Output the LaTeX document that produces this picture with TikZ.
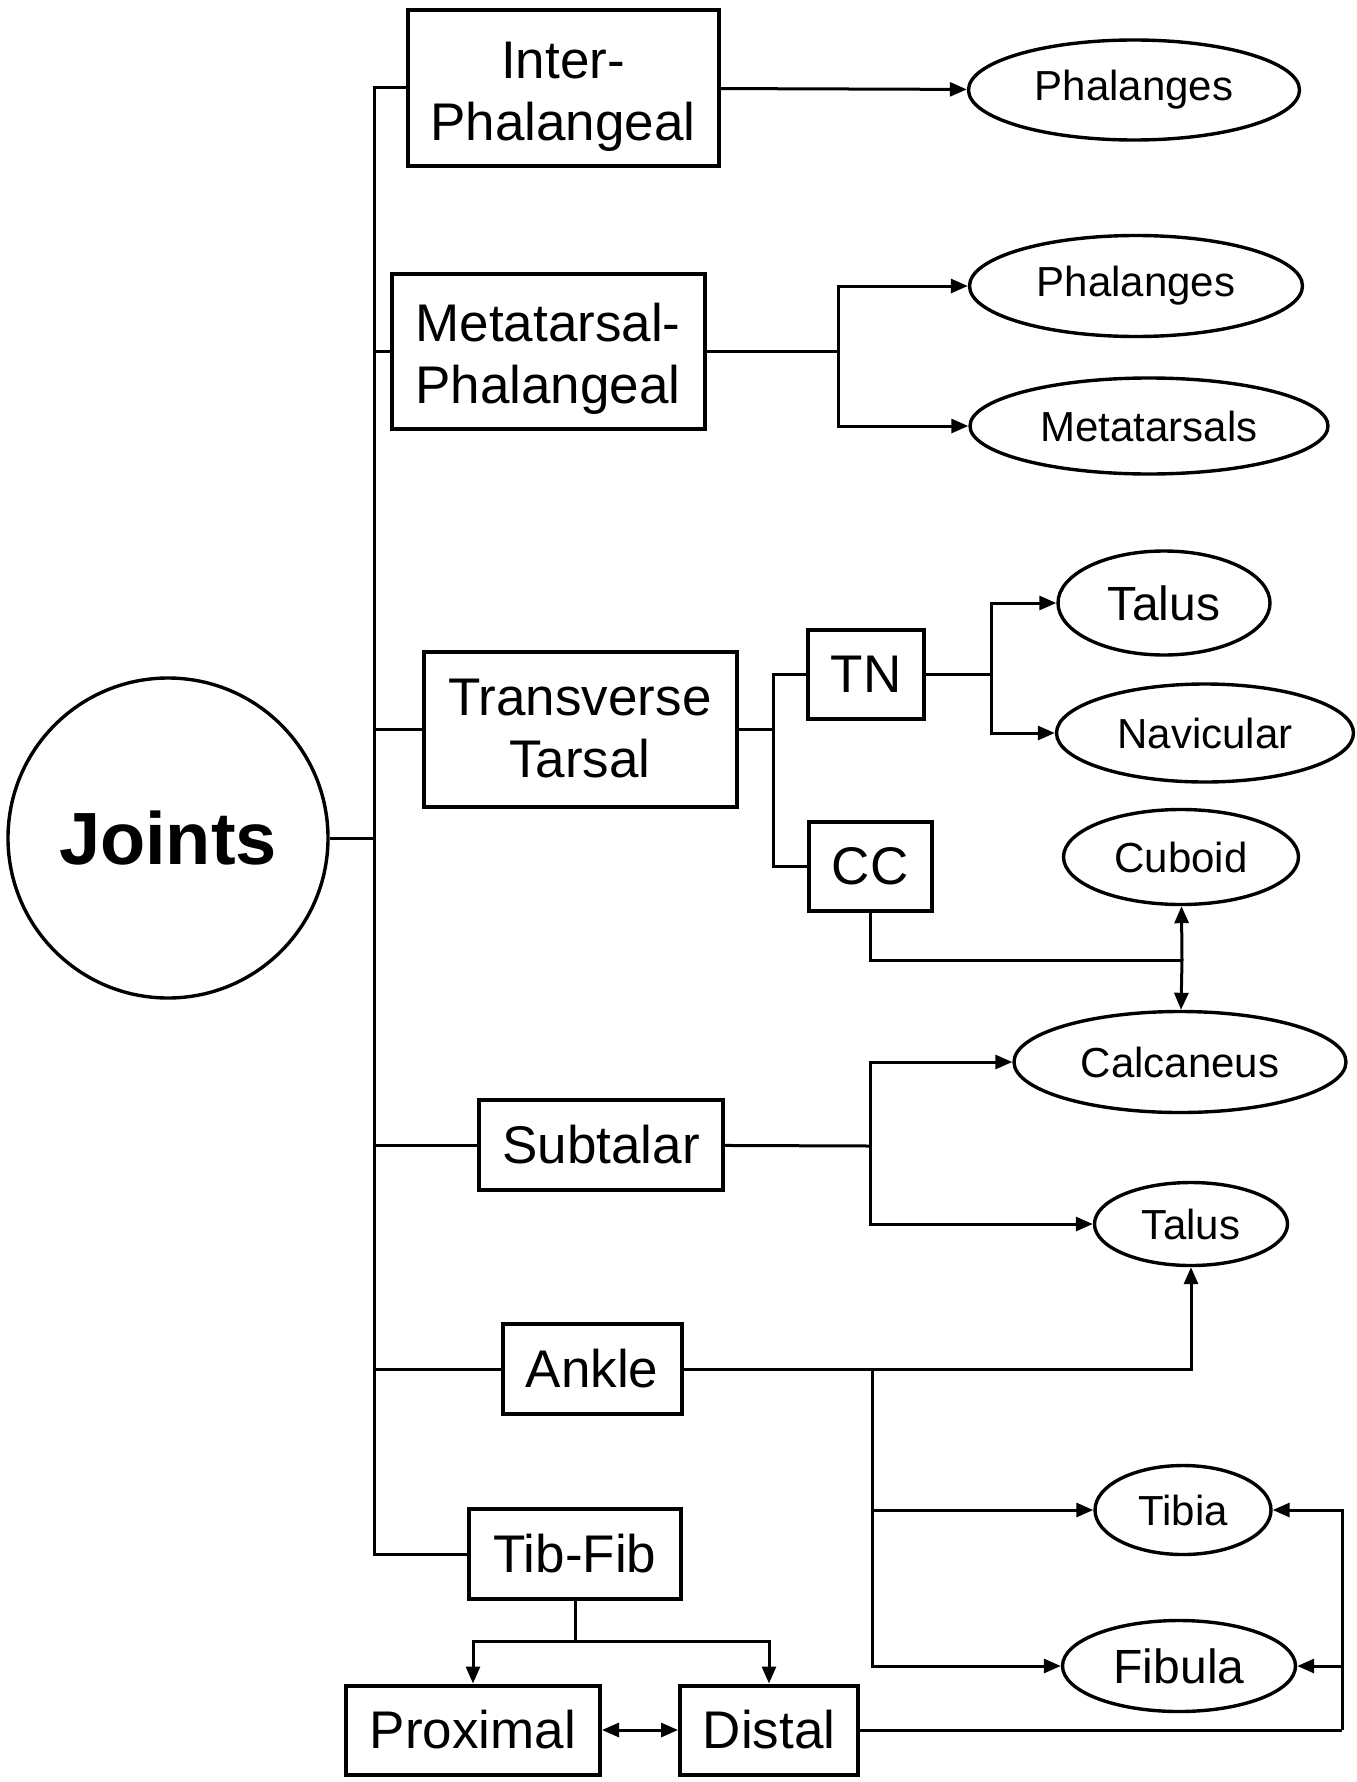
\documentclass[tikz,border=0pt]{standalone}
\usepackage{fontspec}
\setmainfont{Liberation Sans}
\usetikzlibrary{arrows.meta,shapes.geometric}
\begin{document}
\begin{tikzpicture}[x=0.5pt,y=-0.5pt,
  box node/.style={draw,line width=2pt,inner sep=0pt,align=center,font=\fontsize{26.5}{31}\selectfont},
  bone node/.style={ellipse,draw,line width=1.7pt,inner sep=0pt,font=\fontsize{21}{25}\selectfont},
  link/.style={line width=1.5pt},
  arr/.style={link,-{Triangle[length=8.5pt,width=7pt]}}]
  \useasboundingbox (0,0) rectangle (1356,1782);

  \node[circle,draw,line width=1.7pt,minimum size=160pt,font=\fontsize{37}{40}\selectfont\bfseries] (0) at (168,838) {Joints};

  \node[box node,minimum width=155.5pt,minimum height=77.5pt] (1) at (563,88) {\rule{0pt}{27pt}Inter-\\Phalangeal};
  \node[box node,minimum width=156.5pt,minimum height=77.5pt] (2) at (548,351) {\rule{0pt}{27pt}Metatarsal-\\Phalangeal};
  \node[box node,minimum width=156.5pt,minimum height=77.5pt] (3) at (580,729) {Transverse\\Tarsal};
  \node[box node,minimum width=58pt,minimum height=44.5pt] (4) at (866,674) {TN};
  \node[box node,minimum width=61.5pt,minimum height=44.5pt] (5) at (870,866) {CC};
  \node[box node,minimum width=122pt,minimum height=45pt] (6) at (601,1145) {Subtalar};
  \node[box node,minimum width=89.5pt,minimum height=45pt] (7) at (592,1369) {Ankle};
  \node[box node,minimum width=106pt,minimum height=45pt] (8) at (575,1554) {Tib-Fib};
  \node[box node,minimum width=127pt,minimum height=44.5pt] (9) at (473,1730) {Proximal};
  \node[box node,minimum width=89pt,minimum height=44.5pt] (10) at (769,1730) {Distal};

  \node[bone node,minimum width=165.5pt,minimum height=50pt] (11) at (1134,90) {Phalanges};
  \node[bone node,minimum width=166.5pt,minimum height=50.5pt] (12) at (1136,286) {Phalanges};
  \node[bone node,minimum width=179pt,minimum height=48pt] (13) at (1149,426) {Metatarsals};
  \node[bone node,minimum width=106pt,minimum height=52pt,font=\fontsize{24}{28}\selectfont] (14) at (1164,603) {Talus};
  \node[bone node,minimum width=148.5pt,minimum height=49pt] (15) at (1205,733) {Navicular};
  \node[bone node,minimum width=117.5pt,minimum height=47.5pt] (16) at (1181,857) {Cuboid};
  \node[bone node,minimum width=166pt,minimum height=50.5pt] (17) at (1180,1062) {Calcaneus};
  \node[bone node,minimum width=96.5pt,minimum height=41.5pt] (18) at (1191,1224) {Talus};
  \node[bone node,minimum width=88pt,minimum height=44.5pt] (19) at (1183,1510) {Tibia};
  \node[bone node,minimum width=116.5pt,minimum height=45.5pt,font=\fontsize{24}{28}\selectfont] (20) at (1179,1666) {Fibula};

  % branch points
  \coordinate (t) at (374,838);
  \coordinate (mp) at (838,351);
  \coordinate (tt) at (773,729);
  \coordinate (tn) at (991,674);
  \coordinate (cc) at (1182,960);
  \coordinate (st) at (870,1146);
  \coordinate (an) at (872,1369);
  \coordinate (tf) at (575,1641);
  \coordinate (ds) at (1342,1730);

  % joints to each joint type
  \draw[link] (0) -- (t);
  \foreach \n in {1,2,3,6,7,8}
    \draw[link] (t) |- (\n);

  \draw[arr] (1) -- (11);
  \draw[link] (2) -- (mp);
  \draw[arr] (mp) |- (12);
  \draw[arr] (mp) |- (13);

  \draw[link] (3) -- (tt);
  \draw[link] (tt) |- (4);
  \draw[link] (tt) |- (5);
  \draw[link] (4) -- (tn);
  \draw[arr] (tn) |- (14);
  \draw[arr] (tn) |- (15);
  \draw[link] (5) |- (cc);
  \draw[arr] (cc) -- (16);
  \draw[arr] (cc) -- (17);

  \draw[link] (6) -- (st);
  \draw[arr] (st) |- (17);
  \draw[arr] (st) |- (18);

  \draw[arr] (7) -| (18);
  \draw[arr] (an) |- (19);
  \draw[arr] (an) |- (20);

  \draw[link] (8) -- (tf);
  \draw[arr] (tf) -| (9);
  \draw[arr] (tf) -| (10);
  \draw[link,{Triangle[length=8.5pt,width=7pt]}-{Triangle[length=8.5pt,width=7pt]}] (9) -- (10);
  \draw[link] (10) -- (ds);
  \draw[arr] (ds) |- (19);
  \draw[arr] (ds) |- (20);
\end{tikzpicture}
\end{document}
